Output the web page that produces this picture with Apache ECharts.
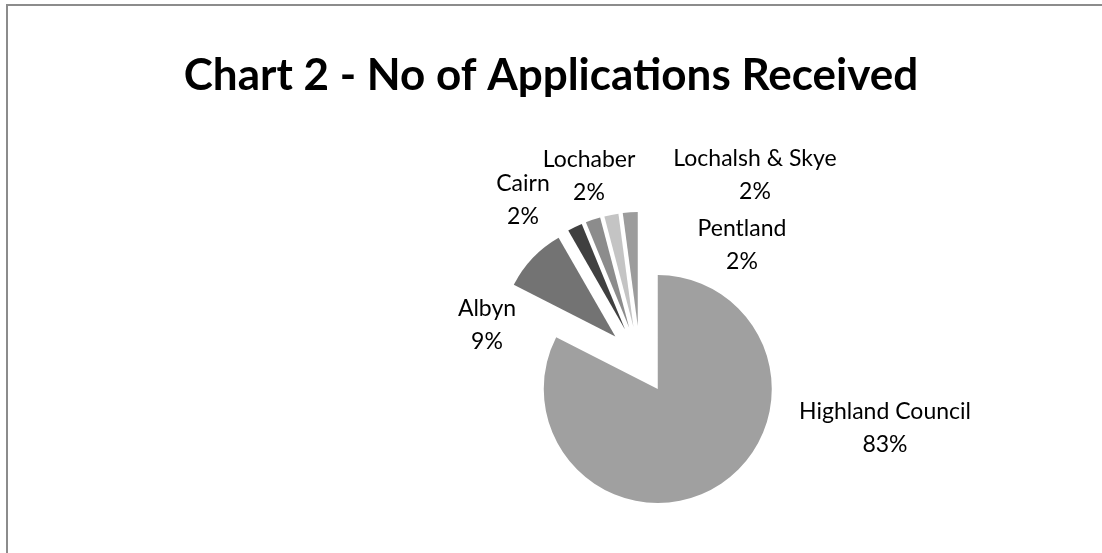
<!DOCTYPE html>
<html>
<head>
<meta charset="utf-8">
<script src="https://cdn.jsdelivr.net/npm/echarts@6/dist/echarts.min.js"></script>
<style>
    html, body { margin: 0; padding: 0; background: #fff; }
    .frame {
        position: absolute;
        left: 6px;
        top: 4px;
        width: 1102px;
        height: 560px;
        border-left: 2px solid #8c8c8c;
        border-top: 2px solid #8c8c8c;
    }
    #chart { position: absolute; left: 0; top: 0; width: 1102px; height: 553px; }
</style>
</head>
<body>
<div class="frame"></div>
<div id="chart"></div>
<script>
// values (share of applications, %)
const categories = ['Highland Council', 'Albyn', 'Cairn', 'Lochaber', 'Lochalsh & Skye', 'Pentland'];
const values = [82.5, 9.2, 2.1, 2.1, 2.0, 2.1];
const colors = ['#a0a0a0', '#737373', '#404040', '#8c8c8c', '#c4c4c4', '#9c9c9c'];
// where Excel put each label (centre of the two-line block)
const labelPos = [[885, 428], [487, 325], [523, 200], [589, 176], [755, 175], [742, 245]];

const chart = echarts.init(document.getElementById('chart'));

let total = values.reduce((a, b) => a + b, 0);

let data = categories.map((name, i) => ({
    name: name,
    value: values[i],
    selected: true,
    itemStyle: { color: colors[i] }
}));

// pie labels drawn as graphic text so they sit where Excel's best-fit put them
let labels = categories.map((name, i) => ({
    type: 'text',
    x: labelPos[i][0],
    y: labelPos[i][1],
    silent: true,
    style: {
        text: name + '\n' + Math.round(values[i] / total * 100) + '%',
        fontFamily: 'Lato',
        fontSize: 23,
        lineHeight: 33,
        fill: '#000',
        align: 'center',
        verticalAlign: 'middle'
    }
}));

chart.setOption({
    animation: false,
    title: {
        text: 'Chart 2 - No of Applications Received',
        left: 'center',
        top: 49,
        textStyle: {
            fontFamily: 'Lato',
            fontWeight: 'bold',
            fontSize: 44,
            color: '#000'
        }
    },
    graphic: labels,
    series: [{
        type: 'pie',
        center: [640, 360],
        radius: 114,
        startAngle: 90,
        clockwise: true,
        selectedMode: 'multiple',
        selectedOffset: 34,
        emphasis: { disabled: true },
        label: { show: false },
        labelLine: { show: false },
        data: data
    }]
});
</script>
</body>
</html>
